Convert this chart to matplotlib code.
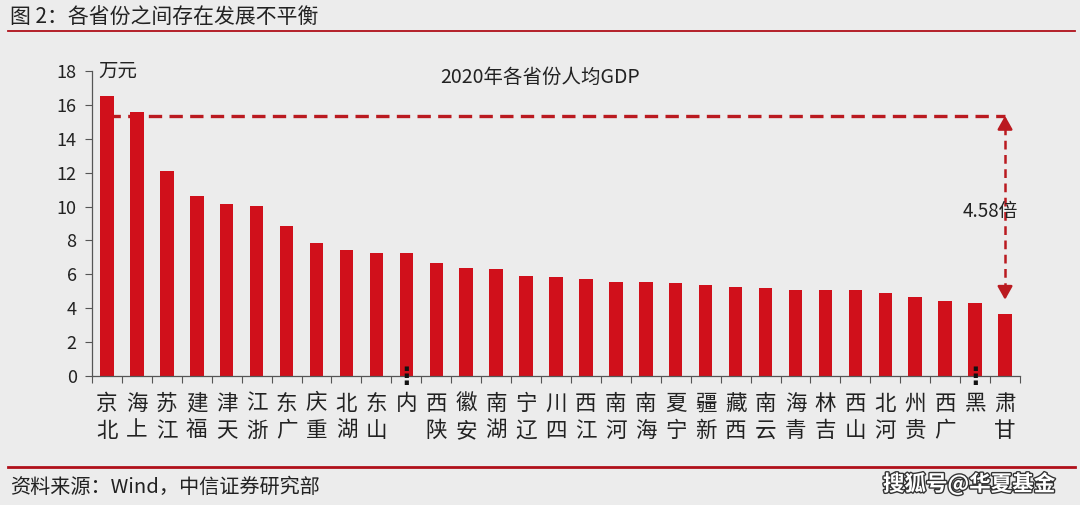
import matplotlib
matplotlib.use("Agg")
import matplotlib.pyplot as plt
from matplotlib.lines import Line2D
import matplotlib.patheffects as pe
import matplotlib.transforms as mtransforms

plt.rcParams['font.family'] = ['Noto Sans CJK SC', 'DejaVu Sans']

provinces = ["北京", "上海", "江苏", "福建", "天津", "浙江", "广东", "重庆", "湖北", "山东",
             "内蒙古", "陕西", "安徽", "湖南", "辽宁", "四川", "江西", "河南", "海南", "宁夏",
             "新疆", "西藏", "云南", "青海", "吉林", "山西", "河北", "贵州", "广西", "黑龙江", "甘肃"]
tick_names = ["北京", "上海", "江苏", "福建", "天津", "浙江", "广东", "重庆", "湖北", "山东",
              "内", "陕西", "安徽", "湖南", "辽宁", "四川", "江西", "河南", "海南", "宁夏",
              "新疆", "西藏", "云南", "青海", "吉林", "山西", "河北", "贵州", "广西", "黑", "甘肃"]
truncated = ["内蒙古", "黑龙江"]
gdp_per_capita = [16.5, 15.6, 12.1, 10.6, 10.15, 10.05, 8.85, 7.85, 7.45, 7.25,
                  7.25, 6.65, 6.35, 6.3, 5.9, 5.85, 5.75, 5.55, 5.55, 5.5,
                  5.35, 5.25, 5.2, 5.1, 5.1, 5.1, 4.9, 4.65, 4.45, 4.3, 3.65]
yticks = [0, 2, 4, 6, 8, 10, 12, 14, 16, 18]
ref_level = 15.35
arrow_low = 4.5
ratio_label = "4.58倍"

bg = '#ECECEC'
bar_red = '#D0101B'
dash_red = '#BA1A20'

fig = plt.figure(figsize=(10.8, 5.05), dpi=100, facecolor=bg)
ax = fig.add_axes([92/1080, 1-376/505, (1020-92)/1080, (376-71)/505])
ax.set_facecolor(bg)

x = list(range(len(provinces)))
ax.plot([0, len(provinces)-1], [ref_level, ref_level], color=dash_red, lw=2.4,
        dashes=(4, 2.2), zorder=1)
ax.bar(x, gdp_per_capita, width=0.45, color=bar_red, zorder=2)

# vertical double arrow
xa = len(provinces) - 1
ax.plot([xa, xa], [ref_level - 0.6, arrow_low + 0.6], color=dash_red, lw=1.8,
        dashes=(3.5, 2.2), zorder=3)
ax.annotate('', xy=(xa, ref_level), xytext=(xa, ref_level - 0.7),
            arrowprops=dict(arrowstyle='-|>,head_length=0.8,head_width=0.45',
                            color=dash_red, lw=1.8, shrinkA=0, shrinkB=0), zorder=3)
ax.annotate('', xy=(xa, arrow_low), xytext=(xa, arrow_low + 0.7),
            arrowprops=dict(arrowstyle='-|>,head_length=0.8,head_width=0.45',
                            color=dash_red, lw=1.8, shrinkA=0, shrinkB=0), zorder=3)
ax.text(xa - 0.5, 9.68, ratio_label, ha='center', va='center', fontsize=13.5,
        color='#222222', zorder=4)

ax.set_xlim(-0.5, len(provinces) - 0.5)
ax.set_ylim(0, 18)
ax.set_yticks(yticks)
ax.set_yticklabels([str(v) for v in yticks], fontsize=13, color='#222222')
ax.set_xticks([i - 0.5 for i in range(len(provinces) + 1)])
ax.set_xticklabels([])
ax.set_xticks(x, minor=True)
ax.set_xticklabels(["\n".join(reversed(n)) for n in tick_names], minor=True,
                   fontsize=15.5, color='#222222', linespacing=1.3)
ax.tick_params(axis='x', which='minor', length=0, pad=12)
ax.tick_params(axis='x', which='major', length=5, color='#555555', direction='out')
ax.tick_params(axis='y', length=5, color='#555555', direction='out', pad=6)
for s in ['top', 'right']:
    ax.spines[s].set_visible(False)
for s in ['left', 'bottom']:
    ax.spines[s].set_color('#555555')
    ax.spines[s].set_linewidth(0.9)

# ellipsis marks for truncated labels
trans = mtransforms.blended_transform_factory(ax.transData, ax.transAxes)
for name in truncated:
    i = provinces.index(name)
    ax.text(i, -0.002, "⋮", transform=trans, ha='center', va='center', fontsize=17,
            fontweight='bold', family='DejaVu Sans', color='#111111', clip_on=False,
            zorder=5)

ax.text(-0.3, 18.0, "万元", fontsize=14, color='#222222', ha='left', va='center')
fig.text(540/1080, 1-77/505, "2020年各省份人均GDP", fontsize=14, color='#222222',
         ha='center', va='center')

# header / footer
fig.text(10/1080, 1-17/505, "图 2：各省份之间存在发展不平衡", fontsize=15, color='#222222',
         ha='left', va='center')
fig.add_artist(Line2D([8/1080, 1075/1080], [1-31/505, 1-31/505], color='#B0101A', lw=1.3))
fig.add_artist(Line2D([8/1080, 1075/1080], [1-467/505, 1-467/505], color='#B0101A', lw=2.0))
fig.text(10/1080, 1-487/505, "资料来源：Wind，中信证券研究部", fontsize=14.5, color='#222222',
         ha='left', va='center')
wm = fig.text(1055/1080, 1-484/505, "搜狐号@华夏基金", fontsize=15.5, color='white',
              ha='right', va='center', fontweight='bold')
wm.set_path_effects([pe.withStroke(linewidth=2, foreground='#333333')])

fig.savefig("out.png", dpi=100, facecolor=bg)
